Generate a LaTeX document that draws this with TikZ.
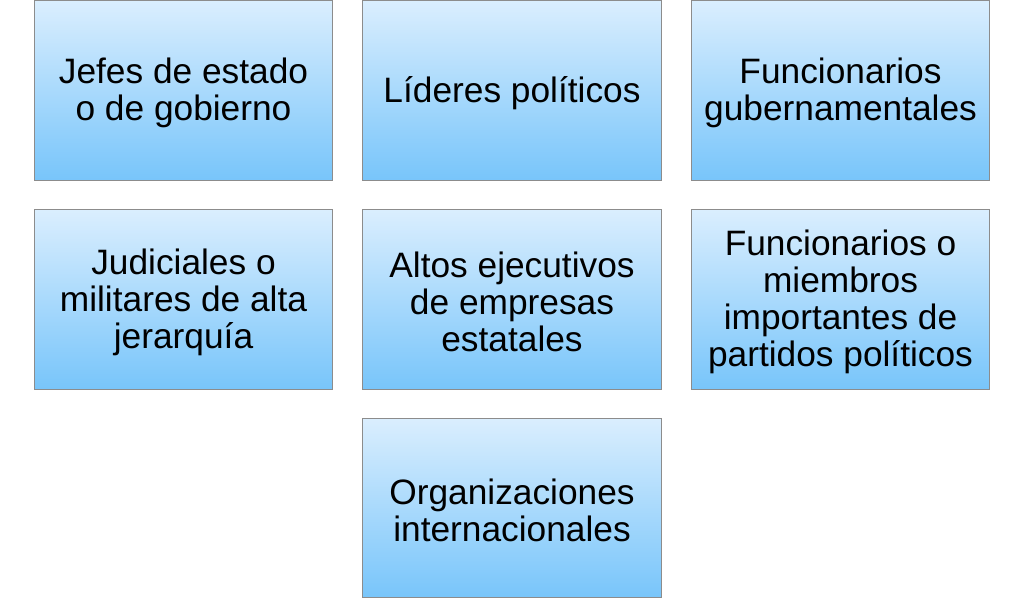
\documentclass[tikz,border=0pt]{standalone}
\usepackage{fontspec}
\setmainfont{Liberation Sans}
\definecolor{TopBlue}{HTML}{DAEEFE}
\definecolor{BottomBlue}{HTML}{78C5FA}
\definecolor{Edge}{HTML}{8C8C8C}

\begin{document}
\begin{tikzpicture}[x=0.025cm,y=-0.025cm,
  tile/.style={rectangle,draw=Edge,line width=0.7pt,top color=TopBlue,bottom color=BottomBlue,
    minimum width=7.45cm,minimum height=4.475cm,inner sep=0pt},
  caption/.style={align=center,inner sep=0pt,yshift=-0.07cm,
    font=\fontsize{25.1}{26.3}\selectfont,text=black}
]
\useasboundingbox[fill=white] (0,0) rectangle (1024,599);
\node[tile,label={[caption]center:Jefes de estado\\o de gobierno}] (jefes) at (183.5,90.5) {};
\node[tile,label={[caption]center:Líderes políticos}] (lideres) at (512,90.5) {};
\node[tile,label={[caption]center:Funcionarios\\gubernamentales}] (funcionarios) at (840.5,90.5) {};
\node[tile,label={[caption]center:Judiciales o\\militares de alta\\jerarquía}] (judiciales) at (183.5,299.5) {};
\node[tile,label={[caption]center:Altos ejecutivos\\de empresas\\estatales}] (altos) at (512,299.5) {};
\node[tile,label={[caption]center:Funcionarios o\\miembros\\importantes de\\partidos políticos}] (partidos) at (840.5,299.5) {};
\node[tile,label={[caption]center:Organizaciones\\internacionales}] (organizaciones) at (512,508) {};
\end{tikzpicture}
\end{document}
